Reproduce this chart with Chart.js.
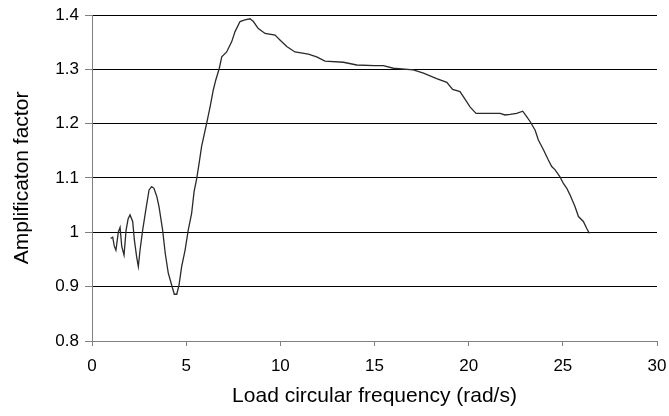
<!DOCTYPE html>
<html>
<head>
<meta charset="utf-8">
<script src="https://cdn.jsdelivr.net/npm/chart.js@4/dist/chart.umd.min.js"></script>
<style>
html,body{margin:0;padding:0;background:#fff;}
#wrap{width:669px;height:416px;position:relative;}
</style>
</head>
<body>
<div id="wrap"><canvas id="c" width="669" height="416"></canvas></div>
<script>
const frequency = [0.99,1.10,1.18,1.27,1.40,1.49,1.58,1.70,1.81,1.92,2.02,2.16,2.25,2.37,2.46,2.55,2.69,2.87,3.03,3.17,3.29,3.44,3.56,3.75,3.89,4.05,4.23,4.37,4.50,4.62,4.76,4.94,5.11,5.29,5.42,5.56,5.70,5.82,6.09,6.27,6.44,6.57,6.76,6.89,7.15,7.42,7.59,7.86,8.12,8.39,8.57,8.83,9.19,9.72,9.98,10.34,10.78,11.49,11.93,12.37,13.35,14.06,15.0,15.47,16.0,17.06,17.6,18.3,18.84,19.15,19.54,19.9,20.07,20.39,20.96,21.67,21.93,22.2,22.55,22.87,23.08,23.26,23.53,23.7,23.88,23.97,24.23,24.41,24.59,24.85,25.03,25.21,25.38,25.65,25.83,26.09,26.27,26.41];
const amplification = [0.989,0.991,0.975,0.967,1.001,1.009,0.974,0.958,1.004,1.025,1.032,1.020,0.986,0.955,0.937,0.967,1.004,1.044,1.078,1.084,1.081,1.066,1.047,1.004,0.961,0.925,0.903,0.886,0.886,0.903,0.937,0.967,1.004,1.035,1.075,1.099,1.130,1.158,1.201,1.231,1.262,1.280,1.302,1.323,1.332,1.351,1.369,1.388,1.391,1.393,1.388,1.375,1.366,1.363,1.354,1.342,1.332,1.328,1.323,1.315,1.313,1.308,1.307,1.307,1.302,1.299,1.293,1.283,1.276,1.263,1.259,1.240,1.231,1.219,1.219,1.219,1.216,1.217,1.219,1.223,1.213,1.204,1.188,1.170,1.158,1.152,1.133,1.121,1.115,1.102,1.090,1.081,1.069,1.047,1.029,1.020,1.007,0.998];
const xTicks = [0,5,10,15,20,25,30];
const yTicks = [0.8,0.9,1,1.1,1.2,1.3,1.4];
const xTitle = 'Load circular frequency (rad/s)';
const yTitle = 'Amplificaton factor';

const points = frequency.map((f,i)=>({x:f,y:amplification[i]}));
const FONT = 'Liberation Sans, Arial, sans-serif';

new Chart(document.getElementById('c'), {
  type: 'scatter',
  data: { datasets: [{
    data: points,
    showLine: true,
    borderColor: '#2a2a2a',
    borderWidth: 1.3,
    pointRadius: 0,
    tension: 0,
    fill: false
  }]},
  options: {
    responsive: false,
    animation: false,
    events: [],
    layout: { padding: { left: 0, right: 12, top: 15, bottom: 0 } },
    plugins: { legend: { display: false }, tooltip: { enabled: false } },
    scales: {
      x: {
        type: 'linear', min: 0, max: 30,
        afterBuildTicks: s => { s.ticks = xTicks.map(v=>({value:v})); },
        afterFit: s => { s.height = 75; s.paddingLeft = 0; s.paddingRight = 0; },
        grid: { drawOnChartArea: false, drawTicks: true, tickLength: 5, tickColor: '#808080' },
        border: { color: '#808080', width: 1 },
        ticks: { color: '#000', font: { family: FONT, size: 17 }, padding: 10, maxRotation: 0 },
        title: { display: true, text: xTitle, color: '#000', font: { family: FONT, size: 21 }, padding: { top: 4, bottom: 7 } }
      },
      y: {
        type: 'linear', min: 0.8, max: 1.4,
        afterBuildTicks: s => { s.ticks = yTicks.map(v=>({value:v})); },
        afterFit: s => { s.width = 92; s.paddingTop = 0; s.paddingBottom = 0; },
        grid: {
          drawOnChartArea: true, drawTicks: true, tickLength: 7,
          color: ctx => (ctx.tick && Math.abs(ctx.tick.value-0.8)<1e-6) ? '#808080' : '#000000',
          tickColor: '#808080', lineWidth: 1
        },
        border: { color: '#808080', width: 1 },
        ticks: { color: '#000', font: { family: FONT, size: 17 }, padding: 6,
                 callback: v => String(Math.round(v*10)/10) },
        title: { display: true, text: yTitle, color: '#000', font: { family: FONT, size: 21 }, padding: { top: 10, bottom: 4 } }
      }
    }
  }
});
</script>
</body>
</html>
